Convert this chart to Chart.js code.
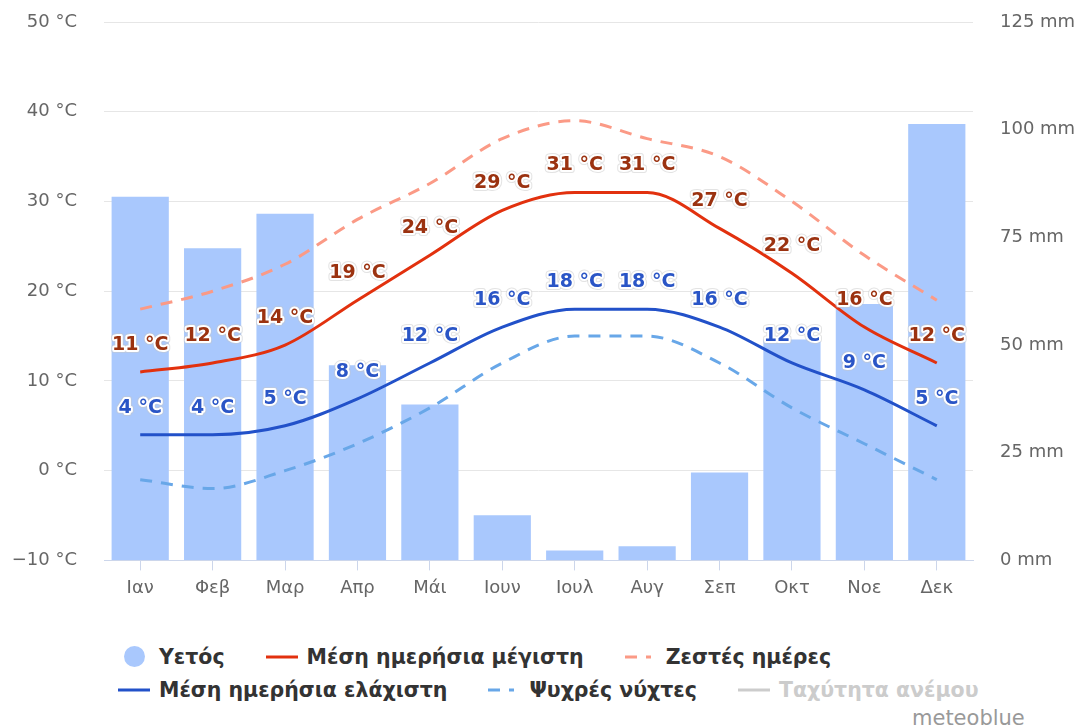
<!DOCTYPE html>
<html lang="el">
<head>
<meta charset="utf-8">
<title>Κλίμα</title>
<script src="https://cdn.jsdelivr.net/npm/chart.js@4.4.1/dist/chart.umd.min.js"></script>
<style>
  html, body { margin: 0; padding: 0; background: #fff; }
  #wrap { position: relative; width: 1083px; height: 728px; overflow: hidden; font-family: "DejaVu Sans", sans-serif; }
  #chartBox { position: absolute; left: 0; top: 0; width: 1083px; height: 610px; }
  #legenda { position: absolute; left: 118px; top: 640px; width: 960px; display: flex; flex-wrap: wrap; }
  .lg-item { display: flex; align-items: center; height: 33px; margin-right: 41px; font-weight: bold; font-size: 20.5px; color: #333; white-space: nowrap; }
  .lg-item.off { color: #ccc; }
  .lg-sym { width: 32px; height: 24px; margin-right: 9px; display: flex; align-items: center; justify-content: center; }
  .lg-break { flex-basis: 100%; height: 0; }
  #credit { position: absolute; left: 912px; top: 706px; font-size: 21px; color: #999; }
</style>
</head>
<body>
<div id="wrap">
  <div id="chartBox"><canvas id="klima"></canvas></div>
  <div id="legenda"></div>
  <div id="credit">meteoblue</div>
</div>
<script>
// ── data ─────────────────────────────────────────────────────────────────
const months = ['Ιαν', 'Φεβ', 'Μαρ', 'Απρ', 'Μάι', 'Ιουν', 'Ιουλ', 'Αυγ', 'Σεπ', 'Οκτ', 'Νοε', 'Δεκ'];
const precipMm = [84.4, 72.5, 80.5, 45.3, 36.2, 10.5, 2.3, 3.3, 20.4, 51.3, 59.5, 101.3];
const maxTemp = [11, 12, 14, 19, 24, 29, 31, 31, 27, 22, 16, 12];
const hotDays = [18, 20, 23, 28, 32, 37, 39, 37, 35, 30, 24, 19];
const minTemp = [4, 4, 5, 8, 12, 16, 18, 18, 16, 12, 9, 5];
const coldNights = [-1, -2, 0, 3, 7, 12, 15, 15, 12, 7, 3, -1];
const windSpeed = [];
const tempTicks = [-10, 0, 10, 20, 30, 40, 50];
const precipTicks = [0, 25, 50, 75, 100, 125];

const FONT = '"DejaVu Sans", sans-serif';
const minus = (v) => (v < 0 ? '\u2212' + Math.abs(v) : String(v));

// ── popisky hodnot s bílým lemem (jako u Highcharts) ─────────────────────
const valueLabels = {
  id: 'valueLabels',
  afterDatasetsDraw(chart) {
    const ctx = chart.ctx;
    ctx.save();
    ctx.font = 'bold 19px ' + FONT;
    ctx.textAlign = 'center';
    ctx.textBaseline = 'middle';
    ctx.lineJoin = 'round';
    chart.data.datasets.forEach((ds, i) => {
      if (!ds.labelColor || ds.hidden) return;
      chart.getDatasetMeta(i).data.forEach((pt, j) => {
        const txt = minus(ds.data[j]) + ' °C';
        const y = pt.y - 27;
        ctx.lineWidth = 6;
        ctx.strokeStyle = 'rgba(200,200,200,0.5)';
        ctx.strokeText(txt, pt.x, y);
        ctx.lineWidth = 4;
        ctx.strokeStyle = '#fff';
        ctx.strokeText(txt, pt.x, y);
        ctx.fillStyle = ds.labelColor;
        ctx.fillText(txt, pt.x, y);
      });
    });
    ctx.restore();
  },
};

const lineBase = {
  type: 'line',
  yAxisID: 'y',
  borderWidth: 3,
  pointRadius: 0,
  pointHoverRadius: 0,
  fill: false,
  cubicInterpolationMode: 'monotone',
  order: 1,
};

// svislé osy: pevná šířka, bez extra okraje nahoře/dole od odsazení popisků
const fixAxis = (w) => (axis) => { axis.width = w; axis.paddingTop = 0; axis.paddingBottom = 0; };

const chart = new Chart(document.getElementById('klima'), {
  type: 'bar',
  data: {
    labels: months,
    datasets: [
      {
        label: 'Υετός', data: precipMm, yAxisID: 'yR', order: 10,
        backgroundColor: '#a9c8fd', borderWidth: 0,
        barPercentage: 0.79, categoryPercentage: 1, legendSym: 'circle',
      },
      { ...lineBase, label: 'Μέση ημερήσια μέγιστη', data: maxTemp, borderColor: '#e2310e', labelColor: '#9b3210' },
      { ...lineBase, label: 'Ζεστές ημέρες', data: hotDays, borderColor: '#fb9a86', borderDash: [12, 9], order: 2 },
      { ...lineBase, label: 'Μέση ημερήσια ελάχιστη', data: minTemp, borderColor: '#2251c9', labelColor: '#2a55c6' },
      { ...lineBase, label: 'Ψυχρές νύχτες', data: coldNights, borderColor: '#68a7e8', borderDash: [12, 9], order: 2 },
      { ...lineBase, label: 'Ταχύτητα ανέμου', data: windSpeed, borderColor: '#ccc', hidden: true },
    ],
  },
  options: {
    responsive: true,
    maintainAspectRatio: false,
    animation: false,
    events: [],
    layout: { padding: { top: 22, left: 0, right: 0, bottom: 4 } },
    plugins: { legend: { display: false }, tooltip: { enabled: false } },
    scales: {
      x: {
        grid: { drawOnChartArea: false, drawTicks: true, tickLength: 10, color: '#ccd6eb', offset: false },
        border: { color: '#ccd6eb', width: 1 },
        ticks: { color: '#666', padding: 7, font: { family: FONT, size: 18 } },
      },
      y: {
        position: 'left',
        min: -10, max: 50,
        afterBuildTicks: (axis) => { axis.ticks = tempTicks.map((v) => ({ value: v })); },
        afterFit: fixAxis(104),
        grid: { color: '#e6e6e6', drawTicks: false },
        border: { display: false },
        ticks: { color: '#666', padding: 27, font: { family: FONT, size: 18 }, callback: (v) => minus(v) + ' °C' },
      },
      yR: {
        position: 'right',
        min: 0, max: 125,
        afterBuildTicks: (axis) => { axis.ticks = precipTicks.map((v) => ({ value: v })); },
        afterFit: fixAxis(110),
        grid: { drawOnChartArea: false, drawTicks: false },
        border: { display: false },
        ticks: { color: '#666', padding: 27, font: { family: FONT, size: 18 }, callback: (v) => v + ' mm' },
      },
    },
  },
  plugins: [valueLabels],
});

// ── legenda v HTML (zalomená po třech položkách, jako v originále) ───────
function legendSymbol(ds) {
  if (ds.legendSym === 'circle') {
    return `<span style="display:inline-block;width:21px;height:21px;border-radius:50%;background:${ds.backgroundColor}"></span>`;
  }
  const col = ds.hidden ? '#ccc' : ds.borderColor;
  const dash = ds.borderDash ? ` stroke-dasharray="${ds.borderDash.join(' ')}"` : '';
  const len = ds.borderDash ? 26 : 32;
  return `<svg width="32" height="6"><line x1="0" y1="3" x2="${len}" y2="3" stroke="${col}" stroke-width="3"${dash}/></svg>`;
}

const legendEl = document.getElementById('legenda');
chart.data.datasets.forEach((ds, i) => {
  if (i === 3) legendEl.insertAdjacentHTML('beforeend', '<div class="lg-break"></div>');
  legendEl.insertAdjacentHTML('beforeend',
    `<div class="lg-item${ds.hidden ? ' off' : ''}"><span class="lg-sym">${legendSymbol(ds)}</span>${ds.label}</div>`);
});
</script>
</body>
</html>
